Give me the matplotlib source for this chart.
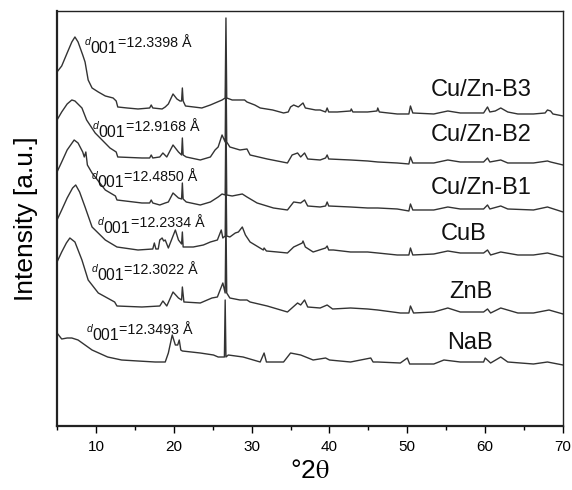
import numpy as np
import matplotlib
matplotlib.use('Agg')
from matplotlib import pyplot as plt
from matplotlib.ticker import MultipleLocator

plt.rcParams['font.family'] = ['Liberation Sans', 'DejaVu Sans']
plt.rcParams['mathtext.fontset'] = 'stix'

# stacked XRD patterns (2theta in degrees, intensity in arbitrary offset units)
tt_b3 = [5.0, 5.6, 6.3, 6.9, 7.3, 7.7, 8.3, 8.6, 9.0, 9.5, 10.3, 11.2, 12.2, 12.6, 12.8, 14.0,
         15.4, 16.9, 17.1, 17.3, 18.5, 18.9, 19.3, 19.9, 20.4, 20.8, 21.0, 21.1, 21.2, 21.5,
         23.6, 24.7, 25.6, 26.2, 26.6, 26.7, 26.8, 27.5, 28.1, 29.1, 29.4, 30.4, 31.1, 32.7,
         34.1, 34.7, 35.0, 35.4, 36.0, 36.3, 36.6, 36.9, 38.2, 38.8, 39.5, 39.7, 39.9, 41.0,
         42.7, 42.8, 43.0, 44.9, 46.1, 46.2, 46.4, 48.7, 50.2, 50.4, 50.7, 53.4, 55.2, 56.8,
         59.8, 60.3, 60.6, 61.3, 62.0, 62.9, 64.2, 66.2, 67.7, 68.0, 68.4, 68.7, 70.0]
int_b3 = [354, 360, 373, 384, 389, 384, 371, 364, 346, 338, 334, 330, 328, 325, 319, 318,
          317, 318, 321, 318, 317, 319, 322, 332, 327, 325, 325, 338, 325, 320,
          318, 321, 324, 326, 328, 408, 328, 326, 326, 326, 324, 321, 318, 316,
          313, 314, 319, 321, 319, 321, 323, 318, 316, 316, 314, 318, 314, 314,
          315, 317, 314, 314, 315, 318, 314, 312, 312, 320, 313, 312, 315, 313,
          313, 319, 314, 315, 318, 314, 312, 312, 313, 316, 315, 312, 310]

tt_b2 = [5.0, 5.6, 6.3, 6.9, 7.3, 8.2, 8.8, 9.9, 11.8, 12.6, 12.8, 15.9, 16.9, 17.1, 17.3,
         18.2, 18.6, 19.1, 19.9, 20.6, 21.0, 21.1, 21.2, 21.6, 23.4, 24.7, 25.3, 25.7, 26.2,
         26.6, 26.7, 26.8, 27.2, 28.5, 29.4, 29.8, 32.0, 34.6, 35.2, 35.9, 36.3, 36.8, 37.2,
         38.8, 39.5, 39.7, 39.9, 42.7, 44.9, 46.2, 48.7, 50.2, 50.4, 50.7, 53.4, 55.2, 56.8,
         59.8, 60.3, 60.6, 62.0, 62.9, 66.2, 68.0, 68.4, 70.0]
int_b2 = [306, 314, 322, 326, 325, 318, 306, 293, 278, 274, 269, 268, 268, 271, 268,
          269, 273, 269, 281, 274, 271, 288, 271, 269, 266, 269, 276, 279, 291,
          284, 366, 284, 279, 276, 277, 271, 267, 263, 271, 273, 269, 273, 267,
          266, 268, 271, 267, 266, 265, 264, 263, 262, 269, 263, 263, 266, 264,
          264, 268, 264, 266, 263, 263, 265, 264, 261]

tt_b1 = [5.0, 5.6, 6.3, 7.2, 7.7, 8.3, 8.5, 8.7, 8.9, 9.5, 11.2, 12.5, 12.7, 15.9, 16.9,
         17.1, 17.3, 18.2, 18.9, 19.3, 19.9, 20.6, 21.0, 21.1, 21.2, 21.6, 23.4, 24.7, 25.7,
         26.2, 26.6, 26.7, 26.8, 27.5, 28.8, 29.4, 30.7, 32.8, 34.6, 35.4, 36.3, 36.8, 37.2,
         38.8, 39.5, 39.7, 39.9, 42.7, 44.9, 46.2, 48.7, 50.2, 50.4, 50.7, 53.4, 55.2, 56.8,
         59.8, 60.3, 60.6, 62.0, 62.9, 66.2, 68.0, 68.4, 70.0]
int_b1 = [254, 264, 276, 286, 283, 274, 269, 274, 261, 253, 236, 230, 226, 223, 223,
          226, 223, 221, 223, 224, 233, 228, 227, 243, 227, 224, 221, 224, 229,
          232, 231, 316, 231, 230, 232, 229, 223, 218, 216, 224, 223, 226, 220,
          219, 220, 224, 220, 219, 218, 218, 217, 215, 222, 216, 216, 219, 217,
          217, 221, 217, 220, 217, 216, 219, 218, 214]

tt_cub = [5.0, 5.6, 6.3, 7.0, 7.4, 7.9, 8.6, 9.5, 11.2, 12.7, 15.4, 17.3, 17.5, 17.7, 18.0,
          18.2, 18.5, 18.7, 18.9, 19.3, 20.2, 20.6, 21.0, 21.1, 21.2, 22.5, 23.8, 24.7, 25.6,
          26.1, 26.3, 26.6, 26.7, 26.8, 27.2, 27.9, 28.3, 28.8, 29.2, 29.8, 31.5, 31.6, 31.9,
          33.3, 34.6, 35.4, 36.5, 36.6, 36.9, 37.9, 39.5, 39.7, 39.9, 40.5, 42.7, 44.9, 46.2,
          48.7, 50.2, 50.4, 50.7, 53.4, 55.2, 56.8, 59.8, 60.3, 60.7, 62.0, 64.2, 66.2, 68.0,
          70.0]
int_cub = [206, 216, 228, 238, 241, 234, 219, 199, 186, 179, 176, 177, 183, 177, 177,
           186, 188, 185, 186, 178, 196, 186, 182, 194, 179, 179, 181, 184, 186,
           196, 188, 190, 261, 190, 189, 193, 194, 199, 191, 184, 176, 178, 175,
           174, 173, 179, 183, 185, 179, 174, 178, 180, 176, 176, 174, 174, 173,
           171, 171, 178, 171, 172, 175, 173, 173, 176, 171, 174, 171, 171, 173,
           169]

tt_znb = [5.0, 5.6, 6.2, 6.65, 7.3, 8.2, 9.0, 10.3, 12.4, 12.7, 15.9, 18.2, 18.6, 19.1, 19.9,
          20.6, 21.0, 21.1, 21.3, 23.4, 24.9, 25.6, 26.3, 26.6, 26.7, 26.8, 27.2, 28.5, 29.4,
          29.8, 32.0, 34.6, 35.9, 36.3, 36.8, 37.2, 38.8, 39.7, 40.4, 42.7, 44.9, 46.2, 49.1,
          50.2, 50.4, 50.8, 53.4, 55.2, 56.8, 59.8, 60.3, 60.7, 62.0, 64.2, 66.2, 68.2, 70.0]
int_znb = [164, 174, 183, 188, 184, 166, 146, 133, 124, 120, 119, 120, 125, 120, 134,
           128, 126, 139, 124, 123, 128, 129, 143, 133, 211, 133, 128, 126, 126,
           124, 120, 114, 123, 121, 126, 119, 118, 121, 117, 118, 117, 116, 113,
           113, 120, 113, 114, 118, 114, 114, 117, 113, 118, 113, 113, 116, 112]

tt_nab = [5.0, 5.6, 6.3, 6.9, 7.7, 9.5, 11.5, 13.3, 15.4, 17.6, 18.9, 19.3, 19.8, 20.2, 20.5,
          20.7, 20.9, 21.1, 23.4, 25.1, 25.7, 26.5, 26.6, 26.7, 27.0, 28.9, 31.1, 31.6, 31.9,
          34.1, 35.0, 36.3, 37.9, 39.5, 40.0, 42.7, 45.3, 45.6, 46.2, 49.1, 50.0, 50.3, 53.4,
          54.7, 56.8, 59.8, 60.0, 60.7, 62.0, 62.9, 66.2, 68.0, 70.0]
int_nab = [93, 87, 88, 88, 86, 76, 69, 66, 65, 64, 64, 73, 91, 81, 81,
           86, 76, 75, 73, 71, 69, 69, 126, 69, 71, 69, 64, 73, 64,
           64, 73, 71, 66, 68, 66, 64, 68, 64, 64, 63, 68, 62, 62,
           66, 64, 64, 68, 63, 69, 64, 62, 64, 61]

samples = ['Cu/Zn-B3', 'Cu/Zn-B2', 'Cu/Zn-B1', 'CuB', 'ZnB', 'NaB']
d001 = ['12.3398', '12.9168', '12.4850', '12.2334', '12.3022', '12.3493']

patterns = [(tt_b3, int_b3), (tt_b2, int_b2), (tt_b1, int_b1),
            (tt_cub, int_cub), (tt_znb, int_znb), (tt_nab, int_nab)]

fig = plt.figure(figsize=(5.72, 4.90), dpi=100)
ax = fig.add_axes([0.0997, 0.1306, 0.8846, 0.847])

for tt, inten in patterns:
    ax.plot(tt, inten, color='#333333', lw=1.0)

# d-spacing notes (baseline-left anchor) and sample names
d_pos = [(8.58, 373), (9.6, 289), (9.45, 239), (10.25, 193), (9.45, 146), (8.8, 86)]
name_pos = [(59.55, 336), (59.55, 291), (59.55, 238), (57.2, 192), (58.1, 134), (58.1, 83)]
for (x, y), d in zip(d_pos, d001):
    kw = dict(xy=(x, y), textcoords='offset points', ha='left', va='baseline', color='#111111')
    ax.annotate('d', xytext=(0, 5.8), fontsize=7.5, style='italic', **kw)
    ax.annotate('001', xytext=(4.3, 0), fontsize=11.5, **kw)
    ax.annotate('=' + d + ' Å', xytext=(23.6, 4.6), fontsize=10.3, **kw)
for (x, y), s in zip(name_pos, samples):
    ax.text(x, y, s, fontsize=17, ha='center', va='center', color='#111111')

ax.set_xlim(5, 70)
ax.set_ylim(0, 415)
ax.xaxis.set_major_locator(MultipleLocator(10))
ax.xaxis.set_minor_locator(MultipleLocator(5))
ax.tick_params(axis='x', which='major', direction='out', length=5, width=1, labelsize=11, pad=5)
ax.tick_params(axis='x', which='minor', direction='out', length=3, width=1)
ax.set_yticks([])
for side in ['top', 'right']:
    ax.spines[side].set_linewidth(1.0)
for side in ['left', 'bottom']:
    ax.spines[side].set_linewidth(1.6)
for sp in ax.spines.values():
    sp.set_color('#222222')

ax.set_ylabel('Intensity [a.u.]', fontsize=19, labelpad=14)
ax.set_xlabel(r'°2$\mathrm{\theta}$', fontsize=19, labelpad=4)

plt.savefig('out.png', dpi=100)
plt.close()
